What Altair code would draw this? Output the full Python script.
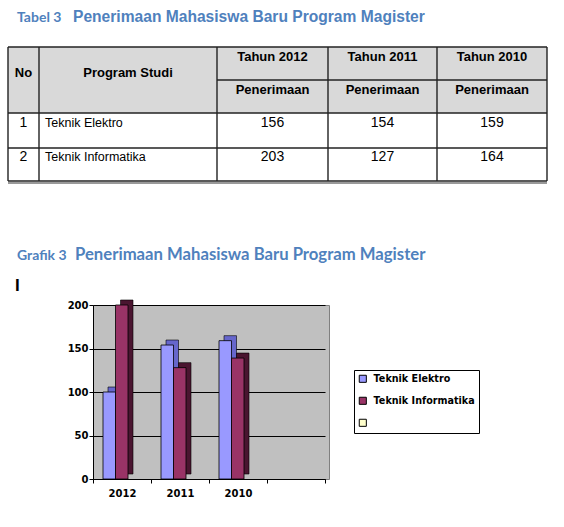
import altair as alt
import pandas as pd

# ---------------- data ----------------
programs = ["Teknik Elektro", "Teknik Informatika"]
program_no = ["1", "2"]
table_years = ["Tahun 2012", "Tahun 2011", "Tahun 2010"]
table_elektro = [156, 154, 159]
table_informatika = [203, 127, 164]

chart_years = ["2012", "2011", "2010"]
chart_elektro = [100, 154, 159]
chart_informatika = [200, 128, 139]

table_title_tag = "Tabel 3"
chart_title_tag = "Grafik 3"
main_title = "Penerimaan Mahasiswa Baru Program Magister"

# ---------------- layout (pixels) ----------------
W, H = 564, 527
OX, OY = 93, 305          # plot-area origin
PW, PH = 236, 174         # plot-area size
col_edges = [8, 39, 217, 328, 437, 547]
row_edges = [47, 80, 113, 148, 181]

BLUE = "#4F81BD"
NARROW = "Liberation Sans Narrow, Arial Narrow, Liberation Sans, sans-serif"
TAHOMA = "DejaVu Sans"

def rx(v):
    return v - OX

def ry(v):
    return v - OY

# ---------------- bar chart ----------------
bars = pd.DataFrame(
    [{"year": y, "program": programs[0], "value": v} for y, v in zip(chart_years, chart_elektro)]
    + [{"year": y, "program": programs[1], "value": v} for y, v in zip(chart_years, chart_informatika)]
)
x_domain = chart_years + [" "]
band_range = [0, 232]

x_enc_front = alt.X(
    "year:N",
    scale=alt.Scale(domain=x_domain, range=band_range, paddingInner=0, paddingOuter=0),
    axis=alt.Axis(title=None, labelAngle=0, tickBand="extent", tickSize=4, tickColor="#000",
                  domainColor="#000", labelPadding=5, grid=False, labelFont=TAHOMA,
                  labelFontWeight="bold", labelFontSize=10, labelColor="#000"),
)
x_enc_plain = alt.X(
    "year:N",
    scale=alt.Scale(domain=x_domain, range=band_range, paddingInner=0, paddingOuter=0),
    axis=None,
)

shadow = alt.Chart(bars).mark_bar(stroke="#000", strokeWidth=0.6).encode(
    x=x_enc_plain,
    xOffset=alt.XOffset("program:N", scale=alt.Scale(domain=programs, range=[15, 40])),
    y=alt.Y("value:Q", scale=alt.Scale(domain=[0, 200], nice=False, range=[PH - 5, -5]), axis=None),
    color=alt.Color("program:N", scale=alt.Scale(domain=programs, range=["#6666CC", "#4A1530"]), legend=None),
)

front = alt.Chart(bars).mark_bar(stroke="#000", strokeWidth=0.8).encode(
    x=x_enc_front,
    xOffset=alt.XOffset("program:N", scale=alt.Scale(domain=programs, range=[10, 35])),
    y=alt.Y("value:Q", scale=alt.Scale(domain=[0, 200], nice=False, range=[PH, 0]),
            axis=alt.Axis(title=None, values=[0, 50, 100, 150, 200], grid=True, gridColor="#000",
                          gridWidth=1, domainColor="#000", tickColor="#000", tickSize=4,
                          labelPadding=1, labelFont=TAHOMA, labelFontWeight="bold",
                          labelFontSize=10, labelColor="#000")),
    color=alt.Color("program:N",
                    scale=alt.Scale(domain=programs + [" "], range=["#9999FF", "#993366", "#FFFFCC"]),
                    legend=alt.Legend(orient="none", legendX=261, legendY=65, title=None,
                                      fillColor="white", strokeColor="#000", padding=4,
                                      symbolType="square", symbolSize=50, symbolStrokeColor="#000",
                                      symbolStrokeWidth=1, labelFont=TAHOMA, labelFontWeight="bold",
                                      labelFontSize=9.6, labelColor="#000", rowPadding=10,
                                      labelOffset=6)),
)

# ---------------- table ----------------
header_fill = pd.DataFrame([{"x": rx(col_edges[0]), "x2": rx(col_edges[-1]),
                             "y": ry(row_edges[0]), "y2": ry(row_edges[2])}])
fill_layer = alt.Chart(header_fill).mark_rect(color="#D9D9D9").encode(
    x=alt.X("x:Q", scale=None, axis=None), x2="x2:Q",
    y=alt.Y("y:Q", scale=None, axis=None), y2="y2:Q",
)

hlines = pd.DataFrame([
    {"x": rx(col_edges[0]), "x2": rx(col_edges[-1]), "y": ry(row_edges[0])},
    {"x": rx(col_edges[2]), "x2": rx(col_edges[-1]), "y": ry(row_edges[1])},
    {"x": rx(col_edges[0]), "x2": rx(col_edges[-1]), "y": ry(row_edges[2])},
    {"x": rx(col_edges[0]), "x2": rx(col_edges[-1]), "y": ry(row_edges[3])},
    {"x": rx(col_edges[0]), "x2": rx(col_edges[-1]), "y": ry(row_edges[4])},
])
hline_layer = alt.Chart(hlines).mark_rule(color="#222", strokeWidth=1.4).encode(
    x=alt.X("x:Q", scale=None, axis=None), x2="x2:Q",
    y=alt.Y("y:Q", scale=None, axis=None),
)
vlines = pd.DataFrame([{"x": rx(c), "y": ry(row_edges[0]), "y2": ry(row_edges[-1])} for c in col_edges])
vline_layer = alt.Chart(vlines).mark_rule(color="#222", strokeWidth=1.4).encode(
    x=alt.X("x:Q", scale=None, axis=None),
    y=alt.Y("y:Q", scale=None, axis=None), y2="y2:Q",
)
shadow_line = pd.DataFrame([{"x": rx(col_edges[0]), "x2": rx(col_edges[-1]), "y": ry(row_edges[-1] + 2)}])
shadow_line_layer = alt.Chart(shadow_line).mark_rule(color="#777", strokeWidth=1.5).encode(
    x=alt.X("x:Q", scale=None, axis=None), x2="x2:Q",
    y=alt.Y("y:Q", scale=None, axis=None),
)

def cx(i):
    return rx((col_edges[i] + col_edges[i + 1]) / 2)

header_bold = []
header_bold.append({"x": cx(0), "y": ry(73), "t": "No"})
header_bold.append({"x": cx(1), "y": ry(73), "t": "Program Studi"})
for i, yname in enumerate(table_years):
    header_bold.append({"x": cx(2 + i), "y": ry(57), "t": yname})
    header_bold.append({"x": cx(2 + i), "y": ry(90), "t": "Penerimaan"})
header_layer = alt.Chart(pd.DataFrame(header_bold)).mark_text(
    font=NARROW, fontWeight="bold", fontSize=13, color="#000", align="center", baseline="middle"
).encode(x=alt.X("x:Q", scale=None, axis=None), y=alt.Y("y:Q", scale=None, axis=None), text="t:N")

body_center = []
row_y = [123, 157]
for r, vals in enumerate([table_elektro, table_informatika]):
    body_center.append({"x": cx(0), "y": ry(row_y[r]), "t": program_no[r]})
    for i, v in enumerate(vals):
        body_center.append({"x": cx(2 + i), "y": ry(row_y[r]), "t": str(v)})
body_layer = alt.Chart(pd.DataFrame(body_center)).mark_text(
    font=NARROW, fontSize=14, color="#000", align="center", baseline="middle"
).encode(x=alt.X("x:Q", scale=None, axis=None), y=alt.Y("y:Q", scale=None, axis=None), text="t:N")

body_left = pd.DataFrame([{"x": rx(col_edges[1] + 6), "y": ry(row_y[r]), "t": programs[r]} for r in range(2)])
body_left_layer = alt.Chart(body_left).mark_text(
    font=NARROW, fontSize=12.5, color="#000", align="left", baseline="middle"
).encode(x=alt.X("x:Q", scale=None, axis=None), y=alt.Y("y:Q", scale=None, axis=None), text="t:N")

# ---------------- titles ----------------
tags = pd.DataFrame([
    {"x": rx(17), "y": ry(18), "t": table_title_tag},
    {"x": rx(17), "y": ry(256), "t": chart_title_tag},
])
tag_layer = alt.Chart(tags).mark_text(
    font="Lato", fontWeight="bold", fontSize=14, color=BLUE, align="left", baseline="middle"
).encode(x=alt.X("x:Q", scale=None, axis=None), y=alt.Y("y:Q", scale=None, axis=None), text="t:N")

t1 = pd.DataFrame([{"x": rx(73), "y": ry(17), "t": main_title}])
t1_layer = alt.Chart(t1).mark_text(
    font="Liberation Sans", fontWeight="bold", fontSize=15.6, color=BLUE, align="left", baseline="middle"
).encode(x=alt.X("x:Q", scale=None, axis=None), y=alt.Y("y:Q", scale=None, axis=None), text="t:N")

t2 = pd.DataFrame([{"x": rx(75), "y": ry(255), "t": main_title}])
t2_layer = alt.Chart(t2).mark_text(
    font="Lato", fontWeight="bold", fontSize=16.7, color=BLUE, align="left", baseline="middle"
).encode(x=alt.X("x:Q", scale=None, axis=None), y=alt.Y("y:Q", scale=None, axis=None), text="t:N")

cursor = pd.DataFrame([{"x": rx(15), "y": ry(286), "t": "I"}])
cursor_layer = alt.Chart(cursor).mark_text(
    font="Liberation Sans", fontWeight="bold", fontSize=17, color="#000", align="left", baseline="middle"
).encode(x=alt.X("x:Q", scale=None, axis=None), y=alt.Y("y:Q", scale=None, axis=None), text="t:N")

chart = alt.layer(
    shadow, front,
    fill_layer, hline_layer, vline_layer, shadow_line_layer,
    header_layer, body_layer, body_left_layer,
    tag_layer, t1_layer, t2_layer, cursor_layer,
).resolve_scale(
    x="independent", y="independent", xOffset="independent", color="independent"
).properties(
    width=PW, height=PH,
    autosize=alt.AutoSizeParams(type="none"),
    padding={"left": OX, "top": OY, "right": W - OX - PW, "bottom": H - OY - PH},
    background="white",
).configure_view(fill="#C0C0C0", stroke="#808080", strokeWidth=1)

chart.save("out.html", embed_options={"renderer": "svg", "actions": False})
